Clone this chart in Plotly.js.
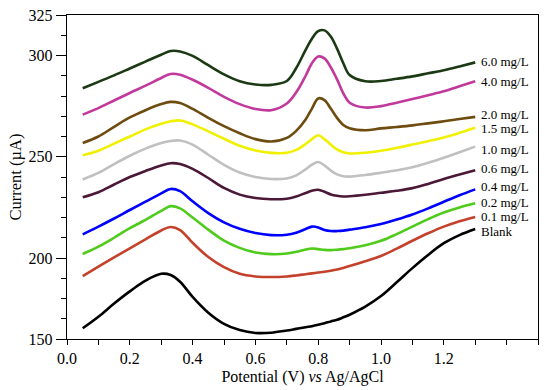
<!DOCTYPE html>
<html>
<head>
<meta charset="utf-8">
<script src="https://cdn.plot.ly/plotly-3.0.1.min.js"></script>
<style>html,body{margin:0;padding:0;background:#fff;}#chart{width:550px;height:390px;}</style>
</head>
<body>
<div id="chart"></div>
<script>
// Potential (V vs Ag/AgCl)
const potential = [0.05,0.1,0.15,0.2,0.25,0.3,0.33,0.36,0.4,0.45,0.5,0.55,0.6,0.65,0.7,0.73,0.76,0.78,0.8,0.82,0.84,0.86,0.88,0.9,0.95,1.0,1.05,1.1,1.15,1.2,1.25,1.3];

// Current (µA) per concentration
const blank = [165.3,171,177.5,183.5,188.8,192.2,191.6,188.3,180.8,173,167.5,164.4,163,163.1,164.2,165,165.8,166.3,167,167.8,168.7,169.5,170.7,172,176,181.2,188,195,201.5,207.3,211.3,214.3];
const c01 = [191.1,195.7,200.3,204.8,209.2,213.6,215.3,213.8,207.5,200.5,195.5,192.2,190.9,190.6,190.9,191.4,192,192.4,192.8,193.2,193.7,194.3,195.1,196,198.4,201,204.6,208.5,212.2,215.5,218.2,220.3];
const c02 = [202,205.6,210,214.7,218.8,223.3,225.6,224.5,220,214,208.6,205,202.7,201.9,202.2,203.1,204.2,204.7,204.4,204,203.9,204.1,204.4,204.8,206.3,208.5,211.8,215.5,219.2,222.5,225,227];
const c04 = [211.7,215.5,219.5,223.7,227.8,231.9,234.1,233,228,222.2,217.6,214.4,212.3,211.3,211.5,212.5,214.3,215.5,215.1,213.8,213.3,213.3,213.5,214,215.2,216.8,219,221.5,224.5,227.8,231,233.9];
const c06 = [230,232.5,236.3,240,243,245.7,246.8,246.4,244,239.5,234.6,231.3,229.6,229,229.3,230.4,232.1,233.2,233.7,232.7,231.4,230.7,230.4,230.5,231.2,232.2,233.2,234.5,236.6,239,241.2,243.3];
const c10 = [238.8,242,246.4,250.5,254,256.8,257.8,258,256,251,246,242.2,240,239,239.3,240.8,243.8,246.1,247.4,245.7,243.2,241.3,240.4,240.2,241,242.1,243.3,244.8,247,249.5,252.2,255];
const c15 = [250.7,253,256.5,260,263.5,266.3,267.5,267.9,266,262.5,258.9,255.4,253.1,251.9,252,253.4,256.3,258.7,260.6,258.7,256,253.6,252.2,251.6,252,253,254.4,256,257.7,259.5,261.8,264.3];
const c20 = [256.8,260,264.8,269.4,273,276,277.1,276.5,273.6,269.2,265.1,261.6,258.7,257.5,259.3,262.8,268.4,273.8,278.8,278,273.8,269.2,265.7,264.1,263.1,264,264.7,265.5,266.5,267.5,268.6,269.7];
const c40 = [270.8,274,277.8,281.5,285.1,288.9,290.9,290.5,288,284,279.6,276,273.6,273,276.3,281.8,290,296.2,299.5,298.6,294.2,288.2,281.3,276.7,274.3,275,276.7,278.5,280.4,282.3,284.8,287.3];
const c60 = [283.8,287,290.2,293.6,297,300.4,302.2,302,299.8,295.2,290.7,287.3,285.7,285.5,287.4,293.8,302.8,308.3,312,312.4,309.4,303.4,296.2,290.4,287.3,287.4,288.5,289.7,291.2,292.7,294.6,296.6];

const seriesNames = ["Blank","0.1 mg/L","0.2 mg/L","0.4 mg/L","0.6 mg/L","1.0 mg/L","1.5 mg/L","2.0 mg/L","4.0 mg/L","6.0 mg/L"];
const seriesData = [blank,c01,c02,c04,c06,c10,c15,c20,c40,c60];
const seriesColors = ["#000000","#c4412b","#4fcb1c","#0000ff","#4b1838","#c0c0c0","#f0f000","#6e4c10","#c2399c","#1b3a14"];
// Label anchor current values (µA), as read beside each curve's end
const labelCurrent = [213,220.4,227.3,235.2,244.3,253.8,264,271.1,287.4,297];

// Axis tick labels
const xTickVals = [0,0.2,0.4,0.6,0.8,1.0,1.2];
const xTickText = ["0.0","0.2","0.4","0.6","0.8","1.0","1.2"];
const yTickVals = [160,200,250,300,320];
const yTickText = ["150","200","250","300","325"];

const FONT = "'Liberation Serif', 'Times New Roman', serif";

const traces = seriesData.map((ys, i) => ({
  type: "scatter", mode: "lines", x: potential, y: ys, name: seriesNames[i],
  line: {color: seriesColors[i], width: 2.6, shape: "spline", smoothing: 1},
  hoverinfo: "skip", showlegend: false
}));

const annotations = seriesNames.map((name, i) => ({
  x: potential[potential.length - 1], y: labelCurrent[i], xref: "x", yref: "y",
  text: name, showarrow: false, xanchor: "left", yanchor: "middle", xshift: 4,
  font: {family: FONT, size: 13, color: "#000"}
}));

const layout = {
  width: 550, height: 390,
  margin: {l: 67, r: 12, t: 15, b: 51},
  paper_bgcolor: "#fff", plot_bgcolor: "#fff",
  font: {family: FONT, color: "#000"},
  xaxis: {
    range: [0, 1.5], showgrid: false, zeroline: false,
    showline: true, linecolor: "#000", linewidth: 1.2, mirror: true,
    ticks: "outside", ticklen: 5, tickcolor: "#000", tickwidth: 1,
    tickmode: "array", tickvals: xTickVals, ticktext: xTickText,
    tickfont: {family: FONT, size: 16, color: "#000"},
    minor: {dtick: 0.1, tick0: 0, ticks: "outside", ticklen: 5, tickcolor: "#000", showgrid: false},
    title: {text: "Potential (V) <i>vs</i> Ag/AgCl", font: {family: FONT, size: 16, color: "#000"}, standoff: 4}
  },
  yaxis: {
    range: [160, 320], showgrid: false, zeroline: false,
    showline: true, linecolor: "#000", linewidth: 1.2, mirror: true,
    ticks: "outside", ticklen: 10, tickcolor: "#000", tickwidth: 1,
    tickmode: "array", tickvals: yTickVals, ticktext: yTickText,
    tickfont: {family: FONT, size: 16, color: "#000"},
    minor: {dtick: 10, tick0: 0, ticks: "outside", ticklen: 5, tickcolor: "#000", showgrid: false},
    title: {text: "Current (µA)", font: {family: FONT, size: 16.5, color: "#000"}, standoff: 2}
  },
  annotations: annotations
};

Plotly.newPlot("chart", traces, layout, {displayModeBar: false, staticPlot: true});
</script>
</body>
</html>
